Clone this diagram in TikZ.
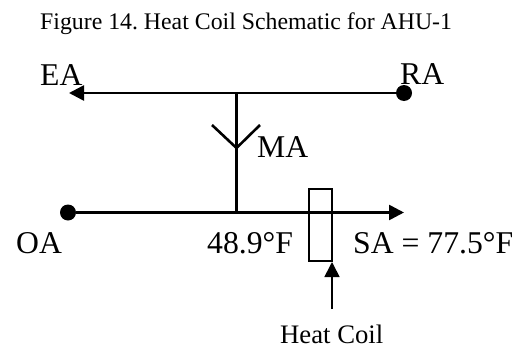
\documentclass[tikz,border=0pt]{standalone}
\usepackage{fontspec}
\setmainfont{Liberation Serif}
\usetikzlibrary{arrows.meta}
\frenchspacing
\tikzset{
  duct/.style={black, line width=2.6pt},
  coilline/.style={black, line width=1.7pt},
  flowtip/.style={-{Triangle[length=15pt,width=15pt]}},
  portdot/.style={circle, fill=black, inner sep=0pt, minimum size=16pt},
  biglabel/.style={font=\fontsize{31.7}{32}\selectfont, inner sep=0pt, anchor=base west},
  smalllabel/.style={font=\fontsize{26.7}{27}\selectfont, inner sep=0pt, anchor=base west},
  titlelabel/.style={font=\fontsize{23.8}{24}\selectfont, inner sep=0pt, anchor=base west}
}
\begin{document}
\begin{tikzpicture}[x=1pt, y=-1pt]
    \useasboundingbox (0,0) rectangle (522,348);

    \node[titlelabel] (title) at (40,29) {Figure 14. Heat Coil Schematic for AHU-1};

    \node[portdot] (radot) at (404,93) {};
    \node[portdot] (oadot) at (68,212.5) {};
    \coordinate (eatip) at (69,93);
    \coordinate (satip) at (404,212.5);
    \coordinate (top) at (236.5,93);
    \coordinate (bottom) at (236.5,212.5);
    \coordinate (apex) at (236.5,148);
    \coordinate (armleft) at (212,125);
    \coordinate (armright) at (260,125);
    \coordinate (coiltip) at (332,262);
    \coordinate (coiltail) at (332,309);

    \draw[duct, flowtip] (radot) -- (eatip);
    \draw[duct, flowtip] (oadot) -- (satip);
    \draw[duct] (top) -- (bottom);
    \draw[duct] (armleft) -- (apex) -- (armright);

    \draw[coilline] (309,189) rectangle (332,261);
    \draw[coilline, flowtip] (coiltail) -- (coiltip);

    \node[biglabel] (ea) at (40,85) {EA};
    \node[biglabel] (ra) at (400,84) {RA};
    \node[biglabel] (ma) at (257,157) {MA};
    \node[biglabel] (oa) at (16,253) {OA};
    \node[biglabel] (mixtemp) at (207,253) {48.9°F};
    \node[biglabel] (sa) at (353,253) {SA = 77.5°F};
    \node[smalllabel] (coil) at (280,343) {Heat Coil};
\end{tikzpicture}
\end{document}
